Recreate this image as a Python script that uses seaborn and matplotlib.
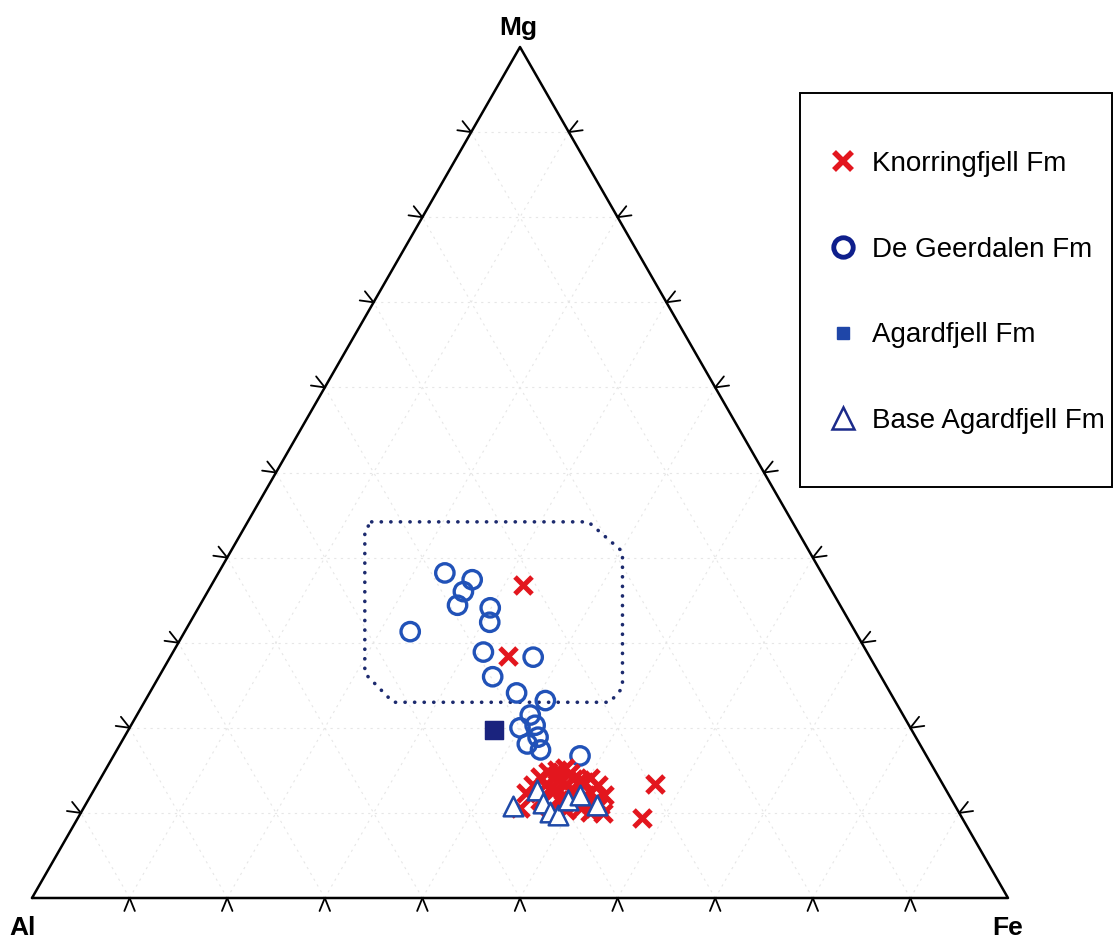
import numpy as np
import pandas as pd
import matplotlib
matplotlib.use("Agg")
from matplotlib import pyplot as plt
from matplotlib.lines import Line2D
from matplotlib.patches import Rectangle
import seaborn as sns

## ternary data (percent Mg, Fe; Al = rest)
knorr_mg = [36.8, 28.4, 13.4, 9.4, 12.3, 13.3, 14.2, 14.8, 15.0, 15.3, 14.7, 13.9, 14.1, 13.3,
            12.1, 10.9, 10.0, 10.1, 10.6, 10.3, 11.5, 12.7, 13.3, 12.5, 12.1, 10.7, 11.5, 10.6,
            13.3, 11.5, 11.5, 13.9, 12.0, 11.0, 14.5, 12.9, 13.6, 12.4, 11.2, 14.0]
knorr_fe = [31.9, 34.6, 57.1, 57.8, 44.5, 44.7, 44.9, 45.5, 46.3, 47.0, 47.8, 49.2, 50.1, 51.3,
            52.6, 52.7, 53.5, 52.1, 50.9, 49.6, 48.3, 47.2, 48.0, 49.4, 50.6, 47.7, 46.3, 44.7,
            45.9, 49.6, 51.9, 47.0, 48.6, 48.9, 46.5, 46.6, 49.8, 51.0, 50.2, 48.4]

geer_mg = [38.2, 37.4, 36.0, 34.4, 34.1, 32.4, 31.3, 28.9, 28.3, 26.0, 24.1, 23.2, 21.5, 20.0,
           18.9, 18.1, 17.4, 16.7, 20.3]
geer_fe = [23.2, 26.4, 26.2, 26.4, 29.9, 30.7, 23.1, 31.8, 37.2, 34.2, 37.6, 41.0, 40.3, 40.0,
           42.4, 41.7, 43.4, 47.8, 41.4]

agard_mg = [19.7]
agard_fe = [37.5]

base_mg = [10.8, 12.7, 11.2, 10.1, 9.8, 11.5, 12.1, 10.9]
base_fe = [43.9, 45.4, 46.8, 48.0, 49.0, 49.2, 50.1, 52.4]

labels = ["Knorringfjell Fm", "De Geerdalen Fm", "Agardfjell Fm", "Base Agardfjell Fm"]
corner_names = ["Al", "Fe", "Mg"]


def to_xy(mg, fe):
    mg = np.asarray(mg) / 100
    fe = np.asarray(fe) / 100
    return fe + mg / 2, mg


frames = []
for name, mg, fe in zip(labels, [knorr_mg, geer_mg, agard_mg, base_mg],
                        [knorr_fe, geer_fe, agard_fe, base_fe]):
    x, y = to_xy(mg, fe)
    frames.append(pd.DataFrame({"x": x, "y": y, "group": name}))
df = pd.concat(frames, ignore_index=True)

sns.set_style("white")
plt.rcParams["font.family"] = ["Liberation Sans", "DejaVu Sans"]
plt.rcParams["text.color"] = "black"

fig = plt.figure(figsize=(11.18, 9.42), dpi=100)
ax = fig.add_axes([0, 0, 1, 1])

# pixel scale of the triangle (x: base width, y: height)
sx, sy = 976.0, 851.0

# very faint grid
for k in np.arange(0.1, 1.0, 0.1):
    gs = dict(color="#e6e6e6", lw=0.8, ls=(0, (2, 4)), zorder=0)
    ax.plot([k / 2, 1 - k / 2], [k, k], **gs)
    ax.plot([k, k + (1 - k) / 2], [0, 1 - k], **gs)
    ax.plot([1 - k, (1 - k) / 2], [0, 1 - k], **gs)

# outline
ax.plot([0, 1, 0.5, 0], [0, 0, 1, 0], color="black", lw=1.8, zorder=1)

# chevron ticks
def chevron(px, py, nx, ny, L=14, half=22):
    for a in (-half, half):
        t = np.deg2rad(a)
        dx = nx * np.cos(t) - ny * np.sin(t)
        dy = nx * np.sin(t) + ny * np.cos(t)
        ax.plot([px, px + L * dx / sx], [py, py + L * dy / sy], color="black", lw=1.3, zorder=1)

ln = np.hypot(486, 851)
for k in np.arange(0.1, 1.0, 0.1):
    chevron(k, 0, 0, -1)
    chevron(k / 2, k, -851 / ln, 486 / ln)
    chevron(1 - k / 2, k, 851 / ln, 486 / ln)

# dotted field box
box_x = [0.348, 0.570, 0.605, 0.605, 0.592, 0.370, 0.341, 0.341, 0.348]
box_y = [0.442, 0.442, 0.407, 0.247, 0.230, 0.230, 0.264, 0.432, 0.442]
ax.plot(box_x, box_y, color="#1c2a6e", lw=2.6, ls=(0, (0.05, 2.6)),
        dash_capstyle="round", zorder=2)

red = "#e3161e"
blue = "#2152b8"

sns.scatterplot(data=df[df.group == labels[1]], x="x", y="y", marker="o", s=175,
                facecolor="none", edgecolor=blue, linewidth=2.4, ax=ax, zorder=3)
sns.scatterplot(data=df[df.group == labels[0]], x="x", y="y", marker="x", s=150,
                color=red, linewidth=3.6, ax=ax, zorder=4)
sns.scatterplot(data=df[df.group == labels[3]], x="x", y="y", marker="^", s=200,
                facecolor="white", edgecolor="#1f4aa8", linewidth=1.8, ax=ax, zorder=5)
sns.scatterplot(data=df[df.group == labels[2]], x="x", y="y", marker="s", s=170,
                color="#1a237e", edgecolor="#1a237e", ax=ax, zorder=5)

# corner labels
lab = dict(fontsize=19, fontweight="bold", ha="center", va="center",
           family=["Liberation Sans Narrow", "Liberation Sans"])
ax.text(0.498, 1.022, corner_names[2], **lab)
ax.text(-0.010, -0.035, corner_names[0], **lab)
ax.text(1.000, -0.035, corner_names[1], **lab)

ax.set_xlim(-32 / sx, 1086 / sx)
ax.set_ylim(-44 / sy, 898 / sy)
ax.axis("off")

# legend
handles = [
    Line2D([], [], ls="none", marker="x", ms=13, mew=4, color=red),
    Line2D([], [], ls="none", marker="o", ms=14, mew=3.5, mfc="none", mec="#0f1f8c"),
    Line2D([], [], ls="none", marker="s", ms=9, color="#1f46a8"),
    Line2D([], [], ls="none", marker="^", ms=16, mew=1.8, mfc="white", mec="#1b2a8a"),
]
ax.legend(handles, labels, loc="upper left", bbox_to_anchor=(815 / 1118, 1 - 137 / 942),
          bbox_transform=fig.transFigure, frameon=False, fontsize=20, labelspacing=2.15,
          handlelength=1.0, handletextpad=0.55, borderpad=0)
fig.add_artist(Rectangle((800 / 1118, 1 - 487 / 942), 312 / 1118, 394 / 942,
                         transform=fig.transFigure, fill=False, ec="black", lw=1.4))

plt.savefig("out.png", dpi=100)
